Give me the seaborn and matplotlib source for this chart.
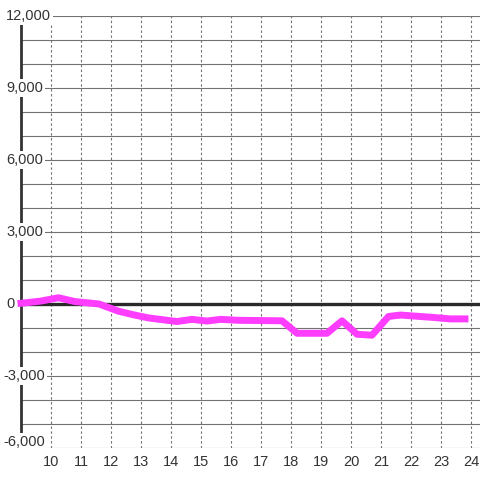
import matplotlib
matplotlib.use("Agg")
import matplotlib.pyplot as plt
import seaborn as sns
import pandas as pd
from matplotlib.transforms import blended_transform_factory, offset_copy

hours = [9.0, 9.65, 10.25, 10.8, 11.6, 12.25, 12.75, 13.25, 13.75, 14.2, 14.7, 15.2, 15.65,
         16.25, 17.0, 17.7, 18.2, 19.2, 19.7, 20.2, 20.7, 21.25, 21.65, 22.3, 22.75, 23.3, 23.8]
values = [30, 120, 260, 100, 0, -300, -450, -580, -660, -730, -640, -710, -640,
          -680, -690, -700, -1220, -1220, -700, -1260, -1300, -520, -460, -520, -560, -620, -620]

x_ticks = list(range(10, 25))
x_labels = [str(t) for t in x_ticks]
y_grid = list(range(-6000, 12001, 1000))
y_label_vals = [12000, 9000, 6000, 3000, 0, -3000, -6000]
y_labels = ["12,000", "9,000", "6,000", "3,000", "0", "-3,000", "-6,000"]

sns.set_style("white")
plt.rcParams["font.family"] = ["Liberation Sans", "DejaVu Sans"]

fig = plt.figure(figsize=(4.8, 4.8), dpi=100)
ax = fig.add_axes([21 / 480, 32 / 480, 459 / 480, 432 / 480])

df = pd.DataFrame({"hour": hours, "value": values})

ax.set_xlim(9.0, 24.3)
ax.set_ylim(-6000, 12000)

# grid lines
for yv in y_grid:
    ax.axhline(yv, color="#727272", lw=0.8, zorder=1)
for xv in x_ticks:
    ax.axvline(xv, color="#727272", lw=0.8, ls=(0, (2.2, 2.2)), zorder=1)

ax.axhline(0, color="#2a2a2a", lw=2.4, zorder=2)

sns.lineplot(data=df, x="hour", y="value", ax=ax, color="#ff3dff", lw=5.0,
             zorder=3, sort=False, estimator=None)
for ln in ax.lines:
    if ln.get_color() == "#ff3dff":
        ln.set_solid_joinstyle("round")
        ln.set_solid_capstyle("projecting")
        ln.set_clip_on(False)

for s in ["top", "right", "bottom"]:
    ax.spines[s].set_visible(False)
ax.spines["left"].set_color("#333333")
ax.spines["left"].set_linewidth(2.0)
ax.spines["left"].set_zorder(2.5)

ax.set_yticks([])
ax.set_xticks(x_ticks)
ax.set_xticklabels(x_labels, fontsize=10.5, color="#333333")
ax.tick_params(axis="x", length=0, pad=5)
ax.set_xlabel("")
ax.set_ylabel("")

trans = blended_transform_factory(fig.transFigure, ax.transData)
for yv, lab in zip(y_label_vals, y_labels):
    tr = trans
    if yv == min(y_label_vals):
        tr = offset_copy(trans, fig=fig, x=0, y=6, units="dots")
    ax.text(6 / 480 if not lab.startswith("-") else 3 / 480, yv, lab, transform=tr,
            ha="left", va="center", fontsize=10.5, color="#333333", zorder=10,
            clip_on=False,
            bbox=dict(boxstyle="square,pad=0.12", facecolor="white", edgecolor="none"))

fig.savefig("out.png", dpi=100, facecolor="white")
